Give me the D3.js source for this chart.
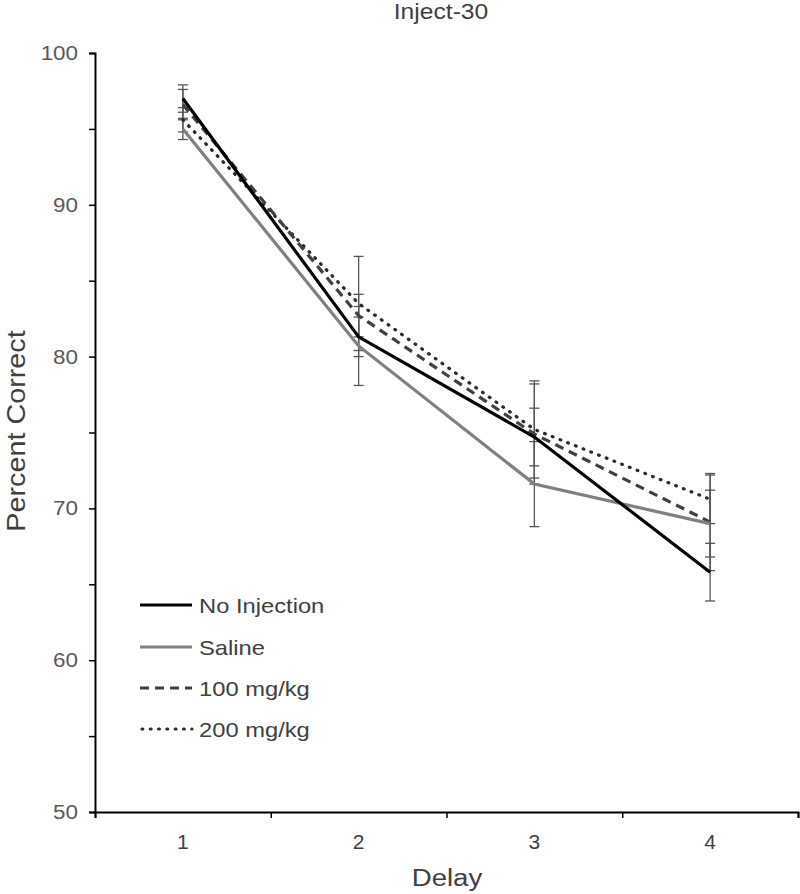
<!DOCTYPE html>
<html>
<head>
<meta charset="utf-8">
<script src="https://cdn.jsdelivr.net/npm/d3@7"></script>
<style>
  body { margin: 0; background: #fff; }
  svg { display: block; }
  text { font-family: "Liberation Sans", Arial, sans-serif; }
</style>
</head>
<body>
<svg id="chart" width="800" height="894"></svg>
<script>
// ---- data ----
const delays = [1, 2, 3, 4];
const yTickValues = [50, 55, 60, 65, 70, 75, 80, 85, 90, 95, 100];
const seriesNames = ["No Injection", "Saline", "100 mg/kg", "200 mg/kg"];
const noInjection    = [97.0, 81.3, 74.7, 65.8];
const noInjectionErr = [0.9, 1.3, 1.9, 1.9];
const saline         = [95.0, 80.7, 71.6, 69.0];
const salineErr      = [0.7, 2.6, 2.8, 2.2];
const mg100          = [96.6, 82.7, 74.9, 69.1];
const mg100Err       = [1.0, 1.4, 3.3, 3.2];
const mg200          = [95.6, 83.5, 75.2, 70.6];
const mg200Err       = [0.8, 3.1, 3.2, 1.6];

const series = [
  { name: seriesNames[0], values: noInjection, err: noInjectionErr, color: "#000000", width: 3.2, dash: null },
  { name: seriesNames[1], values: saline,      err: salineErr,      color: "#808080", width: 3.2, dash: null },
  { name: seriesNames[2], values: mg100,       err: mg100Err,       color: "#404040", width: 3.2, dash: "9,6" },
  { name: seriesNames[3], values: mg200,       err: mg200Err,       color: "#2b2b2b", width: 3.2, dash: "0.8,7.5" }
];

const svg = d3.select("#chart");

// widen glyphs slightly to match the reference's text proportions
function stretch(sel, f) {
  sel.each(function () {
    const w = this.getComputedTextLength();
    if (w > 0) d3.select(this).attr("textLength", w * f).attr("lengthAdjust", "spacingAndGlyphs");
  });
}

const x = d3.scaleLinear().domain([0.5, 4.5]).range([95, 798]);
const y = d3.scaleLinear().domain([50, 100]).range([812, 53]);

// title
svg.append("text").attr("x", 441).attr("y", 19).attr("text-anchor", "middle")
  .attr("font-size", 22).attr("fill", "#404040").text("Inject-30").call(stretch, 1.12);

// y axis
const yAxis = d3.axisLeft(y).tickValues(yTickValues).tickSize(6)
  .tickFormat(d => d % 10 === 0 ? d : "");
const gy = svg.append("g").attr("transform", "translate(95,0)").call(yAxis);
gy.select(".domain").attr("stroke", "#000").attr("stroke-width", 2);
gy.selectAll(".tick line").attr("stroke", "#000").attr("stroke-width", 1.5);
gy.selectAll(".tick text").attr("font-size", 20).attr("fill", "#595959")
  .attr("x", -17).attr("font-family", "Liberation Sans, Arial, sans-serif").call(stretch, 1.12);

// x axis
const xAxis = d3.axisBottom(x).tickValues([0.5, 1.5, 2.5, 3.5, 4.5]).tickSize(6).tickFormat("");
const gx = svg.append("g").attr("transform", "translate(0,812)").call(xAxis);
gx.select(".domain").attr("stroke", "#000").attr("stroke-width", 2);
gx.selectAll(".tick line").attr("stroke", "#000").attr("stroke-width", 1.5);

svg.append("g").selectAll("text").data(delays).join("text")
  .attr("x", d => x(d)).attr("y", 849).attr("text-anchor", "middle")
  .attr("font-size", 21).attr("fill", "#404040").text(d => d);

svg.append("text").attr("x", 447).attr("y", 886).attr("text-anchor", "middle")
  .attr("font-size", 23).attr("fill", "#404040").text("Delay").call(stretch, 1.2);

svg.append("text").attr("transform", "translate(25,431) rotate(-90)")
  .attr("text-anchor", "middle").attr("font-size", 25).attr("fill", "#404040")
  .text("Percent Correct").call(stretch, 1.15);

// error bars
const eb = svg.append("g");
series.forEach(s => {
  delays.forEach((d, i) => {
    const cx = x(d), hi = y(s.values[i] + s.err[i]), lo = y(s.values[i] - s.err[i]);
    eb.append("line").attr("x1", cx).attr("x2", cx).attr("y1", hi).attr("y2", lo)
      .attr("stroke", "#555").attr("stroke-width", 1.3);
    [hi, lo].forEach(yy => eb.append("line").attr("x1", cx - 5).attr("x2", cx + 5)
      .attr("y1", yy).attr("y2", yy).attr("stroke", "#555").attr("stroke-width", 1.3));
  });
});

// lines
const line = d3.line().x((v, i) => x(delays[i])).y(v => y(v));
const drawOrder = [3, 2, 1, 0];
drawOrder.forEach(k => {
  const s = series[k];
  svg.append("path").attr("d", line(s.values)).attr("fill", "none")
    .attr("stroke", s.color).attr("stroke-width", s.width)
    .attr("stroke-dasharray", s.dash)
    .attr("stroke-linecap", k === 3 ? "round" : "butt");
});

// legend
const legendY = [605, 647, 688, 729];
const lg = svg.append("g");
series.forEach((s, i) => {
  lg.append("line").attr("x1", i === 3 ? 142 : 140).attr("x2", 192).attr("y1", legendY[i]).attr("y2", legendY[i])
    .attr("stroke", s.color).attr("stroke-width", s.width).attr("stroke-dasharray", s.dash)
    .attr("stroke-linecap", i === 3 ? "round" : "butt");
  lg.append("text").attr("x", 199).attr("y", legendY[i] + 8).attr("font-size", 21)
    .attr("fill", "#404040").text(s.name).call(stretch, 1.13);
});
</script>
</body>
</html>
